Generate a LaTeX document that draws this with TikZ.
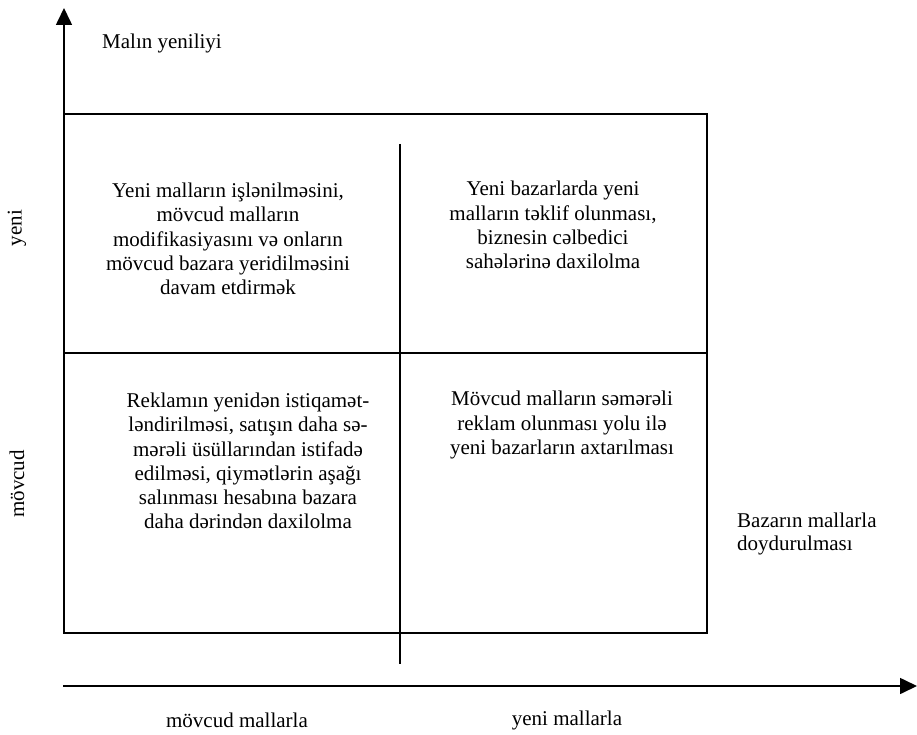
\documentclass[tikz,border=0pt]{standalone}
\usepackage{fontspec}
\setmainfont{Liberation Serif}
\usetikzlibrary{arrows.meta}
\begin{document}
\begin{tikzpicture}[x=1pt,y=-1pt,
  frame/.style={line width=1.6pt, black},
  axis/.style={line width=1.6pt, -{Triangle[length=17pt,width=16pt]}},
  cell/.style={align=center, font=\fontsize{21pt}{24.3pt}\selectfont, inner sep=0pt},
  lbl/.style={font=\fontsize{21pt}{23.5pt}\selectfont, inner sep=0pt}]
\useasboundingbox (0,0) rectangle (917,735);

% matrix frame corners and dividers
\coordinate (tl) at (64,114);
\coordinate (tr) at (707,114);
\coordinate (bl) at (64,633);
\coordinate (br) at (707,633);
\coordinate (ml) at (64,353);
\coordinate (mr) at (707,353);
\coordinate (vtop) at (400,144);
\coordinate (vbot) at (400,664);

% axes
\coordinate (yfoot) at (64,608);
\coordinate (ytip) at (64,8);
\coordinate (xfoot) at (63,686);
\coordinate (xtip) at (917,686);

\draw[frame] (tl) -- (tr) -- (br) -- (bl) -- cycle;
\draw[frame] (ml) -- (mr);
\draw[frame] (vtop) -- (vbot);
\draw[axis] (yfoot) -- (ytip);
\draw[axis] (xfoot) -- (xtip);

% axis titles
\node[lbl, anchor=west] (ytitle) at (102,43) {Malın yeniliyi};
\node[lbl, rotate=90] (ynew) at (17,228) {yeni};
\node[lbl, rotate=90] (yold) at (17,484) {mövcud};
\node[lbl] (xold) at (237,720) {mövcud mallarla};
\node[lbl] (xnew) at (567,720) {yeni mallarla};
\node[lbl, align=left, anchor=west] (xtitle) at (737,534) {Bazarın mallarla\\doydurulması};

% quadrant texts
\node[cell] (q1) at (228,239) {Yeni malların işlənilməsini,\\mövcud malların\\modifikasiyasını və onların\\mövcud bazara yeridilməsini\\davam etdirmək};
\node[cell] (q2) at (553,225) {Yeni bazarlarda yeni\\malların təklif olunması,\\biznesin cəlbedici\\sahələrinə daxilolma};
\node[cell] (q3) at (248,461) {Reklamın yenidən istiqamət-\\ləndirilməsi, satışın daha sə-\\mərəli üsüllarından istifadə\\edilməsi, qiymətlərin aşağı\\salınması hesabına bazara\\daha dərindən daxilolma};
\node[cell] (q4) at (562,425) {Mövcud malların səmərəli\\reklam olunması yolu ilə\\yeni bazarların axtarılması};
\end{tikzpicture}
\end{document}
